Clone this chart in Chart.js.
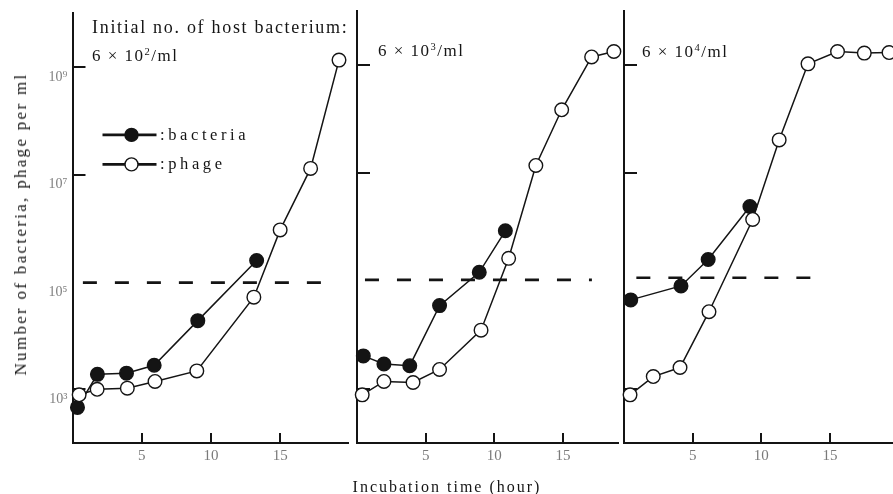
<!DOCTYPE html>
<html>
<head>
<meta charset="utf-8">
<script src="https://cdn.jsdelivr.net/npm/chart.js@4/dist/chart.umd.min.js"></script>
<style>
  html, body { margin: 0; padding: 0; background: #fff; }
  body { position: relative; width: 893px; height: 494px; overflow: hidden;
         font-family: "Liberation Serif", "DejaVu Serif", serif; color: #151515; }
  canvas { position: absolute; top: 0; }
  .lbl { position: absolute; white-space: nowrap; line-height: 20px; }
  .lbl sup { font-size: 0.62em; vertical-align: 0.55em; line-height: 0; }
</style>
</head>
<body>
<canvas id="panelA" width="352" height="494" style="left:0px"></canvas>
<canvas id="panelB" width="272" height="494" style="left:352px"></canvas>
<canvas id="panelC" width="275" height="494" style="left:618px"></canvas>

<div class="lbl" style="left:92px;top:17px;font-size:18px;letter-spacing:1.7px;">Initial no. of host bacterium:</div>
<div class="lbl" style="left:92px;top:46px;font-size:17px;letter-spacing:1.5px;">6 × 10<sup>2</sup>/ml</div>
<div class="lbl" style="left:378px;top:41px;font-size:17px;letter-spacing:1.5px;">6 × 10<sup>3</sup>/ml</div>
<div class="lbl" style="left:642px;top:42px;font-size:17px;letter-spacing:1.5px;">6 × 10<sup>4</sup>/ml</div>
<div class="lbl" style="left:447px;top:477px;font-size:16px;letter-spacing:2px;transform:translateX(-50%);">Incubation time (hour)</div>
<div class="lbl" style="left:21px;top:224px;font-size:17px;letter-spacing:2.3px;transform:translate(-50%,-50%) rotate(-90deg);">Number of bacteria, phage per ml</div>

<script>
// ---- Culture started with 6 x 10^2 host bacteria per ml ----
const timeBacteriaA = [0.36, 1.8, 3.9, 5.9, 9.05, 13.3];
const bacteriaA     = [4.6e2, 1.9e3, 2.0e3, 2.8e3, 1.9e4, 2.5e5];
const timePhageA    = [0.48, 1.78, 3.96, 5.96, 8.98, 13.1, 15.0, 17.2, 19.25];
const phageA        = [7.9e2, 1.0e3, 1.05e3, 1.4e3, 2.2e3, 5.2e4, 9.3e5, 1.3e7, 1.35e9];
const levelTimeA    = [0.75, 18.3];
const levelA        = 9.7e4;

// ---- Culture started with 6 x 10^3 host bacteria per ml ----
const timeBacteriaB = [0.46, 1.96, 3.84, 6.01, 8.9, 10.8];
const bacteriaB     = [4.1e3, 2.9e3, 2.7e3, 3.5e4, 1.45e5, 8.5e5];
const timePhageB    = [0.38, 1.96, 4.08, 6.01, 9.03, 11.04, 13.02, 14.9, 17.08, 18.7];
const phageB        = [7.8e2, 1.38e3, 1.32e3, 2.3e3, 1.23e4, 2.63e5, 1.38e7, 1.48e8, 1.41e9, 1.78e9];
const levelTimeB    = [0.58, 17.1];
const levelB        = 1.05e5;

// ---- Culture started with 6 x 10^4 host bacteria per ml ----
const timeBacteriaC = [0.49, 4.15, 6.13, 9.17];
const bacteriaC     = [4.47e4, 8.1e4, 2.5e5, 2.4e6];
const timePhageC    = [0.44, 2.13, 4.08, 6.19, 9.37, 11.3, 13.4, 15.55, 17.5, 19.3];
const phageC        = [7.8e2, 1.7e3, 2.5e3, 2.7e4, 1.38e6, 4.1e7, 1.05e9, 1.78e9, 1.66e9, 1.7e9];
const levelTimeC    = [0.9, 14.0];
const levelC        = 1.15e5;

// ---- Axes ----
const decadeTicks  = [1e3, 1e5, 1e7, 1e9];
const decadeLabels = ['10³', '10⁵', '10⁷', '10⁹'];
const markedDecades = [1e3, 1e7, 1e9];
const hourTicks    = [5, 10, 15];

const INK = '#141414';
const SERIF = '"Liberation Serif", "DejaVu Serif", serif';

const pts = (xs, ys) => xs.map((x, i) => ({ x, y: ys[i] }));

// short tick marks pointing into the plot area
const innerTicks = {
  id: 'innerTicks',
  beforeDatasetsDraw(chart) {
    const { ctx, chartArea: a, scales: { x, y } } = chart;
    ctx.save();
    ctx.strokeStyle = INK;
    ctx.lineWidth = 2;
    ctx.beginPath();
    for (const t of y.ticks) {
      if (!markedDecades.includes(t.value)) continue;
      const py = Math.round(y.getPixelForValue(t.value));
      ctx.moveTo(a.left, py);
      ctx.lineTo(a.left + 13, py);
    }
    for (const t of x.ticks) {
      if (!hourTicks.includes(t.value)) continue;
      const px = Math.round(x.getPixelForValue(t.value));
      ctx.moveTo(px, a.bottom);
      ctx.lineTo(px, a.bottom - 10);
    }
    ctx.stroke();
    ctx.restore();
  }
};

// key for the two symbols, drawn inside the first panel
const symbolKey = {
  id: 'symbolKey',
  afterDatasetsDraw(chart) {
    if (!chart.options.plugins.symbolKey || !chart.options.plugins.symbolKey.show) return;
    const { ctx, chartArea: a } = chart;
    const rows = chart.data.datasets.filter(d => d.keyed);
    ctx.save();
    rows.forEach((d, i) => {
      const cy = a.top + 121.5 + i * 29.5;
      const x0 = a.left + 30, x1 = a.left + 84, cx = a.left + 59;
      ctx.strokeStyle = INK;
      ctx.lineWidth = 2.6;
      ctx.beginPath();
      ctx.moveTo(x0, cy); ctx.lineTo(x1, cy);
      ctx.stroke();
      ctx.beginPath();
      ctx.arc(cx, cy, 6.5, 0, Math.PI * 2);
      ctx.fillStyle = d.pointBackgroundColor;
      ctx.fill();
      ctx.lineWidth = 1.4;
      ctx.stroke();
      ctx.fillStyle = INK;
      ctx.font = '16.5px ' + SERIF;
      ctx.textBaseline = 'alphabetic';
      ctx.textAlign = 'left';
      if ('letterSpacing' in ctx) ctx.letterSpacing = '3.6px';
      ctx.fillText(':' + d.label, a.left + 87.5, cy + 5);
    });
    ctx.restore();
  }
};

function seriesSet(tB, vB, tP, vP, tL, level) {
  return [
    {
      label: 'phage', keyed: true, order: 0,
      data: pts(tP, vP),
      borderColor: INK, borderWidth: 1.5,
      pointRadius: 6.8, pointHoverRadius: 6.8,
      pointBackgroundColor: '#ffffff', pointBorderColor: INK, pointBorderWidth: 1.4,
      clip: false
    },
    {
      label: 'bacteria', keyed: true, order: 1,
      data: pts(tB, vB),
      borderColor: INK, borderWidth: 1.5,
      pointRadius: 6.8, pointHoverRadius: 6.8,
      pointBackgroundColor: INK, pointBorderColor: INK, pointBorderWidth: 1.4,
      clip: false
    },
    {
      label: 'level', keyed: false, order: 2,
      data: tL.map(t => ({ x: t, y: level })),
      borderColor: INK, borderWidth: 2.6, borderDash: [14, 18],
      pointRadius: 0, clip: false
    }
  ];
}

function makePanel(id, datasets, cfg) {
  // symbol key order: bacteria first, then phage
  const ordered = [datasets[1], datasets[0], datasets[2]];
  return new Chart(document.getElementById(id), {
    type: 'line',
    data: { datasets: ordered },
    options: {
      responsive: false,
      animation: false,
      events: [],
      layout: { padding: cfg.padding, autoPadding: false },
      plugins: {
        legend: { display: false },
        tooltip: { enabled: false },
        symbolKey: { show: cfg.key }
      },
      scales: {
        x: {
          type: 'linear', position: 'bottom',
          min: 0, max: cfg.xMax,
          grid: { display: true, drawOnChartArea: false, drawTicks: false },
          border: { display: true, color: INK, width: 2 },
          ticks: {
            stepSize: 5, includeBounds: false, padding: 4,
            color: '#7a7a7a', font: { family: SERIF, size: 15 },
            callback: v => (hourTicks.includes(v) ? String(v) : '')
          },
          afterFit: s => { s.height = 51; }
        },
        y: {
          type: 'logarithmic', position: 'left',
          min: 1e2, max: 1e10,
          grid: { display: true, drawOnChartArea: false, drawTicks: false },
          border: { display: true, color: INK, width: 2 },
          afterBuildTicks: s => { s.ticks = decadeTicks.map(v => ({ value: v })); },
          ticks: {
            display: cfg.yLabels, padding: 5, labelOffset: 10,
            color: '#808080', font: { family: SERIF, size: 14 },
            callback: v => decadeLabels[decadeTicks.indexOf(v)] || ''
          },
          afterFit: s => { s.width = cfg.yWidth; }
        }
      }
    },
    plugins: [innerTicks, symbolKey]
  });
}

makePanel('panelA',
  seriesSet(timeBacteriaA, bacteriaA, timePhageA, phageA, levelTimeA, levelA),
  { padding: { left: 0, right: 4, top: 11, bottom: 0 }, yWidth: 72.5, xMax: 19.9, yLabels: true, key: true });

makePanel('panelB',
  seriesSet(timeBacteriaB, bacteriaB, timePhageB, phageB, levelTimeB, levelB),
  { padding: { left: 5, right: 6, top: 11, bottom: 0 }, yWidth: 0, xMax: 19.0, yLabels: false, key: false });

makePanel('panelC',
  seriesSet(timeBacteriaC, bacteriaC, timePhageC, phageC, levelTimeC, levelC),
  { padding: { left: 6, right: 0, top: 11, bottom: 0 }, yWidth: 0, xMax: 19.59, yLabels: false, key: false });
</script>
</body>
</html>
